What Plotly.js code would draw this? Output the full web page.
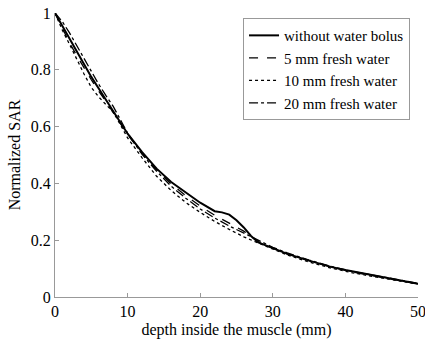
<!DOCTYPE html>
<html>
<head>
<meta charset="utf-8">
<script src="https://cdn.plot.ly/plotly-3.0.1.min.js"></script>
<style>html,body{margin:0;padding:0;background:#fff;}#chart{width:425px;height:339px;}</style>
</head>
<body>
<div id="chart"></div>
<script>
const depthNoBolus = [0,1,2,3,4,5,6,7,8,9,10,12,14,16,18,20,22,23,24,25,26,27,28,30,31,32,35,38,40,44,47,50];
const sarNoBolus   = [1.0,0.955,0.905,0.86,0.815,0.775,0.735,0.695,0.655,0.615,0.575,0.51,0.452,0.405,0.368,0.332,0.302,0.298,0.29,0.27,0.245,0.215,0.192,0.172,0.163,0.152,0.128,0.106,0.095,0.075,0.06,0.047];

const depth5mm = [0,1,2,3,4,5,6,7,8,9,10,12,14,16,18,20,22,24,26,27.5,28,30,32,35,38,41,44,47,50];
const sar5mm   = [1.0,0.945,0.895,0.85,0.805,0.765,0.725,0.69,0.65,0.612,0.572,0.505,0.448,0.398,0.357,0.32,0.288,0.26,0.232,0.205,0.195,0.172,0.152,0.128,0.106,0.088,0.074,0.06,0.046];

const depth10mm = [0,1,2,3,4,5,6,7,8,9,10,12,14,16,18,20,22,24,26,28,30,32,35,38,41,44,47,50];
const sar10mm   = [1.0,0.94,0.89,0.835,0.785,0.738,0.705,0.678,0.652,0.607,0.56,0.49,0.425,0.375,0.333,0.298,0.266,0.238,0.212,0.19,0.168,0.148,0.123,0.102,0.085,0.071,0.058,0.046];

const depth20mm = [0,1,2,3,4,5,6,7,8,9,10,12,14,16,18,20,22,24,26,28,30,32,35,38,41,44,47,50];
const sar20mm   = [1.0,0.97,0.93,0.885,0.84,0.79,0.75,0.71,0.672,0.625,0.577,0.502,0.443,0.39,0.348,0.31,0.278,0.25,0.225,0.2,0.175,0.155,0.13,0.108,0.09,0.076,0.062,0.048];

const seriesNames = ["without water bolus","5 mm fresh water","10 mm fresh water","20 mm fresh water"];
const xTicks = [0,10,20,30,40,50];
const yTicks = [0,0.2,0.4,0.6,0.8,1];
const yTickText = ["0","0.2","0.4","0.6","0.8","1"];

const font = "Times New Roman, Liberation Serif, Tinos, DejaVu Serif, serif";
const traces = [
  {x: depthNoBolus, y: sarNoBolus, name: seriesNames[0], line: {color: "#000", width: 2, dash: "solid"}},
  {x: depth5mm, y: sar5mm, name: seriesNames[1], line: {color: "#000", width: 1.3, dash: "dash"}},
  {x: depth10mm, y: sar10mm, name: seriesNames[2], line: {color: "#000", width: 1.3, dash: "dot"}},
  {x: depth20mm, y: sar20mm, name: seriesNames[3], line: {color: "#000", width: 1.3, dash: "dashdot"}}
].map(t => Object.assign({type: "scatter", mode: "lines"}, t));

const layout = {
  width: 425, height: 339,
  margin: {l: 55, r: 7, t: 13, b: 42},
  paper_bgcolor: "#fff", plot_bgcolor: "#fff",
  font: {family: font, size: 15, color: "#000"},
  showlegend: true,
  legend: {
    x: 0.518, y: 0.982, xanchor: "left", yanchor: "top",
    bgcolor: "#fff", bordercolor: "#999", borderwidth: 1,
    font: {family: font, size: 15, color: "#000"},
    tracegroupgap: 0
  },
  xaxis: {
    range: [0, 50], tickvals: xTicks, ticktext: xTicks.map(String),
    ticks: "inside", ticklen: 4, tickcolor: "#999",
    showline: true, linecolor: "#999", linewidth: 1, mirror: false,
    showgrid: false, zeroline: false, ticklabeloverflow: "allow",
    tickfont: {family: font, size: 16, color: "#000"},
    title: {text: "depth inside the muscle (mm)", font: {family: font, size: 16, color: "#000"}, standoff: 4}
  },
  yaxis: {
    range: [0, 1], tickvals: yTicks, ticktext: yTickText,
    ticks: "inside", ticklen: 4, tickcolor: "#999",
    showline: true, linecolor: "#999", linewidth: 1, mirror: false,
    showgrid: false, zeroline: false,
    tickfont: {family: font, size: 16, color: "#000"},
    title: {text: "Normalized SAR", font: {family: font, size: 16, color: "#000"}, standoff: 6}
  }
};
Plotly.newPlot("chart", traces, layout, {displayModeBar: false, staticPlot: true});
</script>
</body>
</html>
